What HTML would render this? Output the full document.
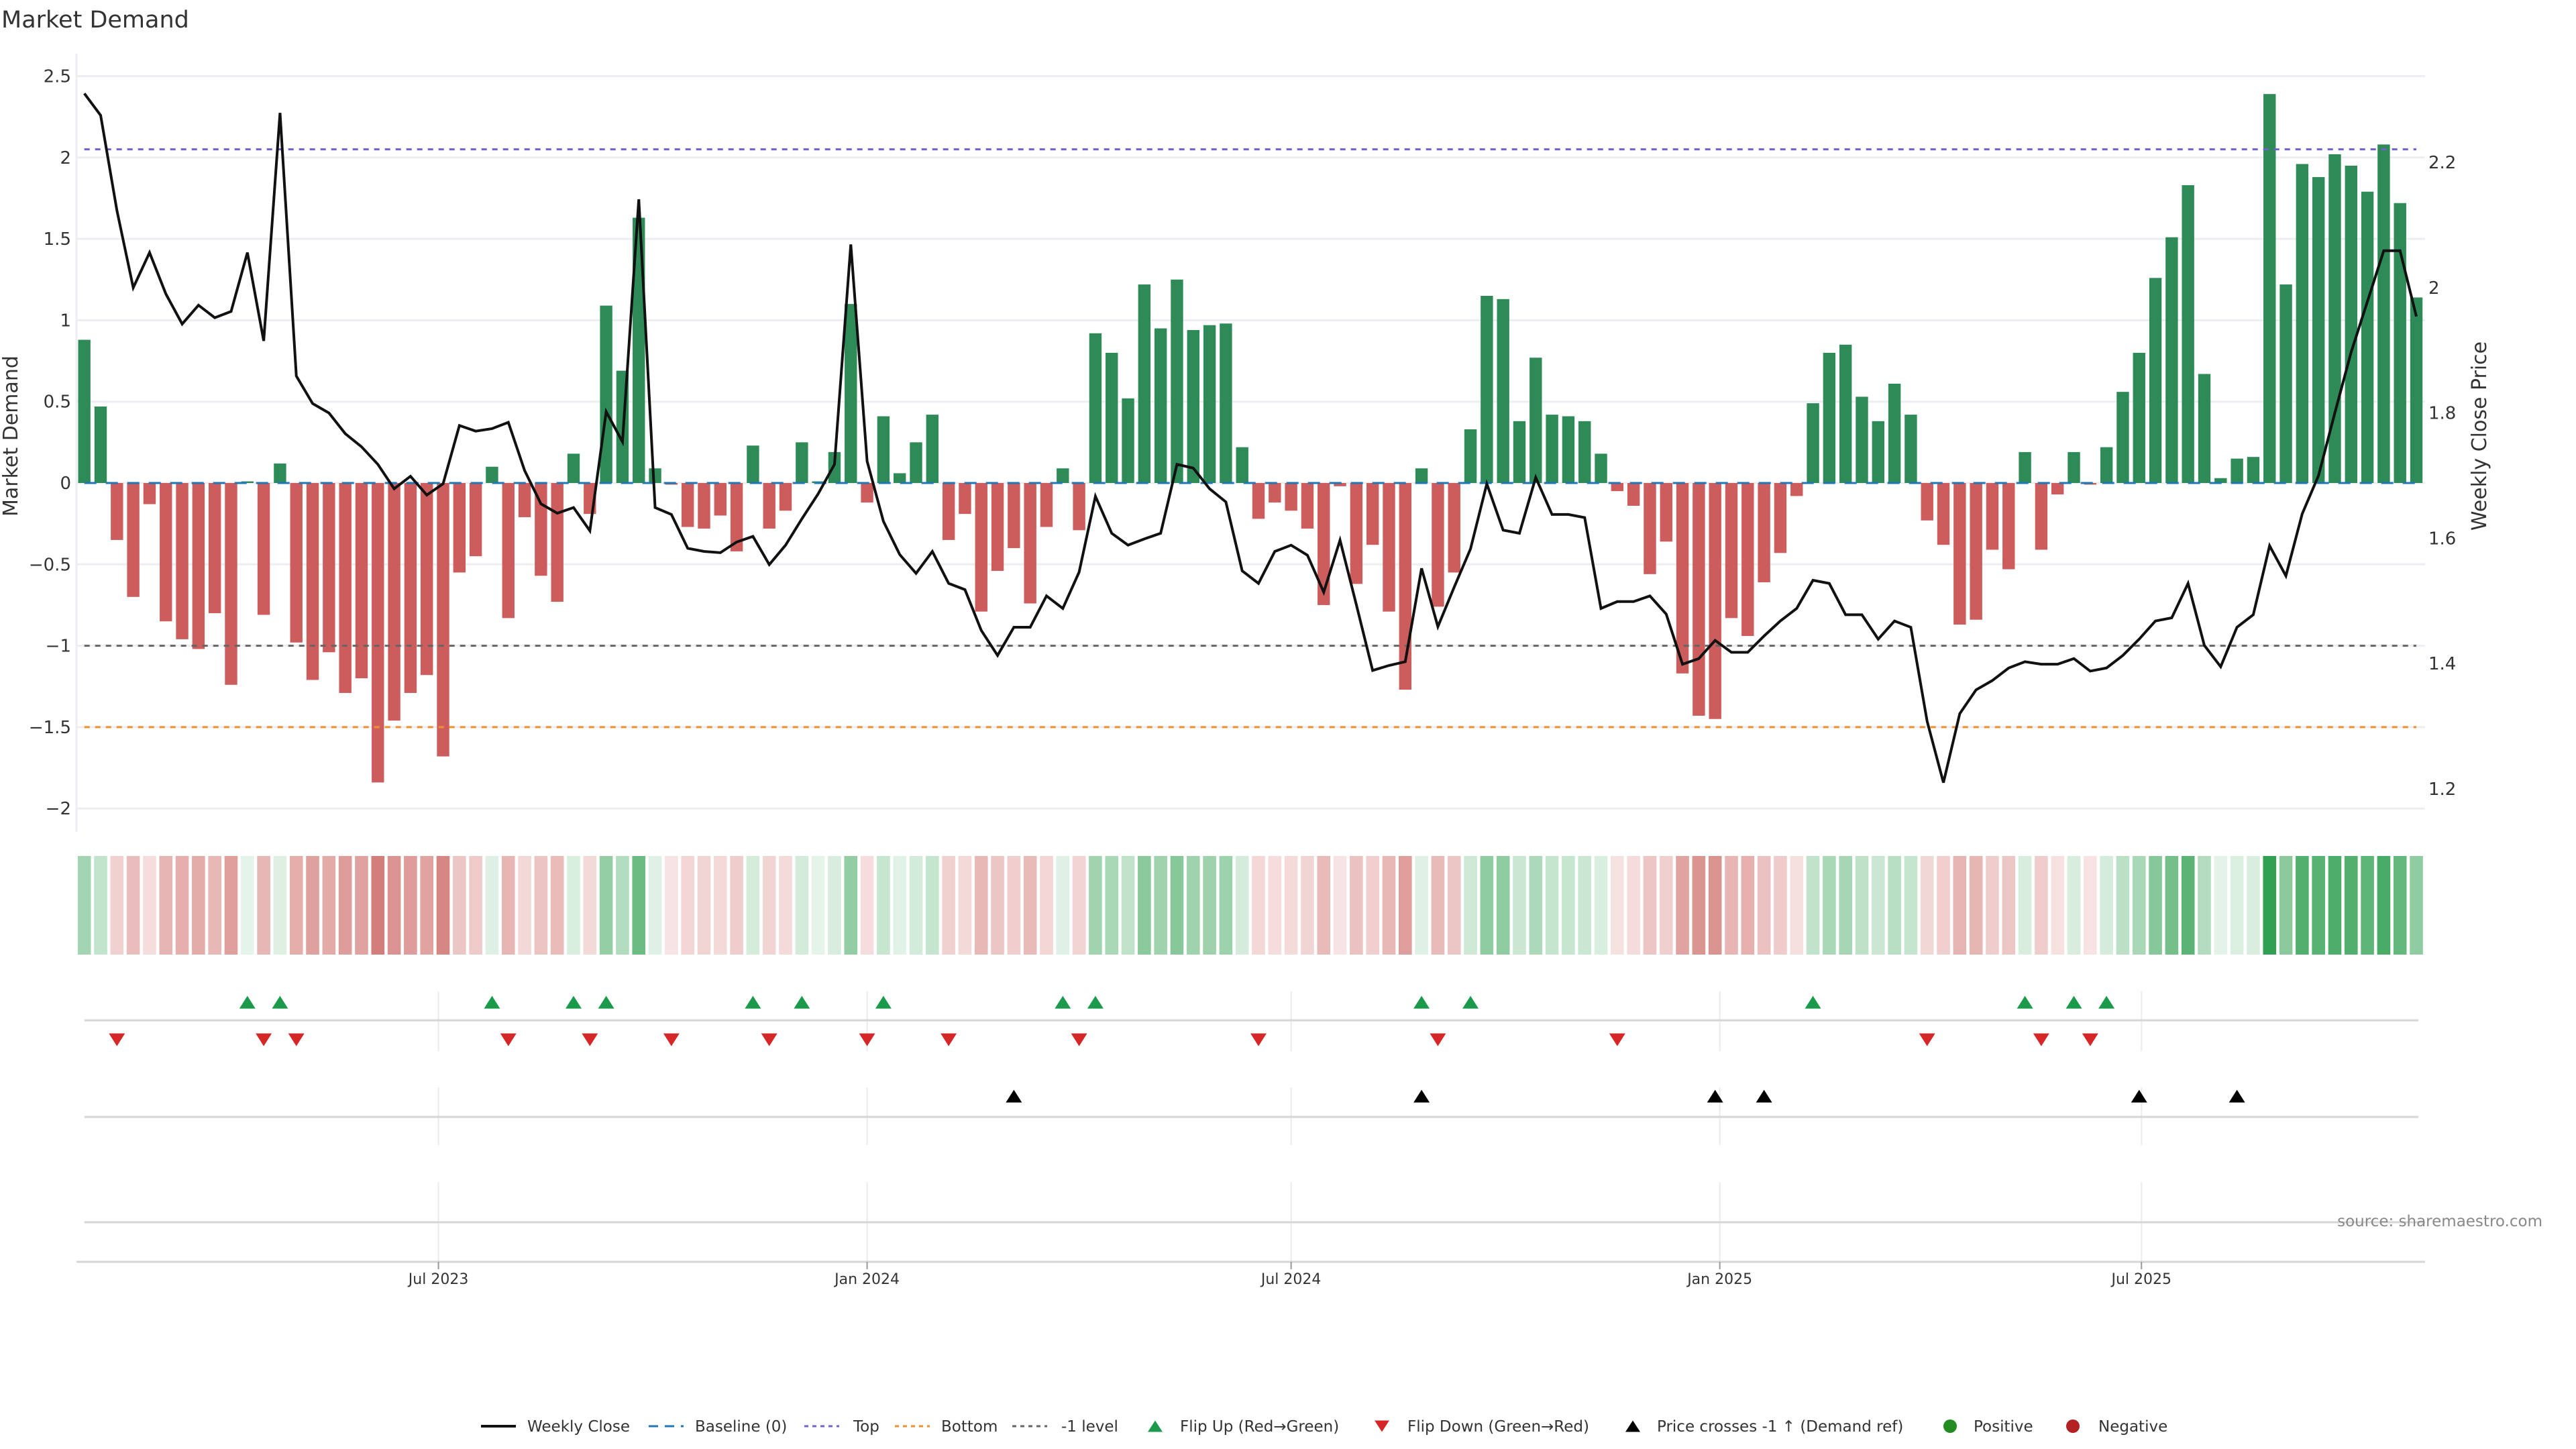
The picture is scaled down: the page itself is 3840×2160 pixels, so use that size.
<!DOCTYPE html>
<html><head><meta charset="utf-8"><title>Market Demand</title>
<style>
html,body{margin:0;padding:0;background:#fff;}
svg{display:block;font-family:"DejaVu Sans","Liberation Sans",sans-serif;}
</style></head>
<body>
<svg id="chart" width="3840" height="2160" viewBox="0 0 3840 2160" xmlns="http://www.w3.org/2000/svg">
<text x="2" y="41" font-size="35" fill="#333">Market Demand</text>
<g id="grid"></g><g id="heat"></g><g id="panels"></g><g id="bars"></g><g id="refs"></g><g id="line"></g><g id="axes"></g><g id="legend"></g>
<text x="3790" y="1828" font-size="23" fill="#888" text-anchor="end">source: sharemaestro.com</text>
</svg>
<script>
const startDate = "2023-01-30";
const demand = [0.88,0.47,-0.35,-0.70,-0.13,-0.85,-0.96,-1.02,-0.80,-1.24,
 0.01,-0.81,0.12,-0.98,-1.21,-1.04,-1.29,-1.20,-1.84,-1.46,
 -1.29,-1.18,-1.68,-0.55,-0.45,0.10,-0.83,-0.21,-0.57,-0.73,
 0.18,-0.19,1.09,0.69,1.63,0.09,-0.01,-0.27,-0.28,-0.20,
 -0.42,0.23,-0.28,-0.17,0.25,0.01,0.19,1.10,-0.12,0.41,
 0.06,0.25,0.42,-0.35,-0.19,-0.79,-0.54,-0.40,-0.74,-0.27,
 0.09,-0.29,0.92,0.80,0.52,1.22,0.95,1.25,0.94,0.97,
 0.98,0.22,-0.22,-0.12,-0.17,-0.28,-0.75,-0.02,-0.62,-0.38,
 -0.79,-1.27,0.09,-0.76,-0.55,0.33,1.15,1.13,0.38,0.77,
 0.42,0.41,0.38,0.18,-0.05,-0.14,-0.56,-0.36,-1.17,-1.43,
 -1.45,-0.83,-0.94,-0.61,-0.43,-0.08,0.49,0.80,0.85,0.53,
 0.38,0.61,0.42,-0.23,-0.38,-0.87,-0.84,-0.41,-0.53,0.19,
 -0.41,-0.07,0.19,-0.01,0.22,0.56,0.80,1.26,1.51,1.83,
 0.67,0.03,0.15,0.16,2.39,1.22,1.96,1.88,2.02,1.95,
 1.79,2.08,1.72,1.14];
const price = [2.31,2.275,2.123,2.0,2.056,1.99,1.942,1.972,1.952,1.962,
 2.056,1.915,2.279,1.859,1.815,1.80,1.767,1.746,1.718,1.679,
 1.699,1.669,1.687,1.78,1.771,1.775,1.785,1.708,1.655,1.64,
 1.649,1.612,1.802,1.754,2.141,1.649,1.638,1.584,1.579,1.577,
 1.594,1.603,1.558,1.589,1.631,1.671,1.718,2.069,1.723,1.627,
 1.574,1.544,1.579,1.528,1.518,1.453,1.413,1.458,1.458,1.508,
 1.488,1.546,1.667,1.608,1.589,1.599,1.608,1.718,1.712,1.679,
 1.658,1.548,1.528,1.579,1.589,1.573,1.514,1.597,1.494,1.389,
 1.397,1.403,1.552,1.459,1.522,1.583,1.687,1.613,1.608,1.697,
 1.638,1.638,1.633,1.488,1.499,1.499,1.508,1.479,1.399,1.408,
 1.437,1.418,1.418,1.444,1.468,1.488,1.533,1.528,1.478,1.478,
 1.439,1.468,1.458,1.308,1.21,1.32,1.358,1.373,1.393,1.403,
 1.399,1.399,1.408,1.388,1.393,1.413,1.439,1.468,1.473,1.528,
 1.429,1.395,1.458,1.478,1.588,1.54,1.639,1.70,1.80,1.897,
 1.978,2.059,2.059,1.954];
const leftTicks = [2.5,2,1.5,1,0.5,0,-0.5,-1,-1.5,-2];
const leftTickLabels = ["2.5","2","1.5","1","0.5","0","−0.5","−1","−1.5","−2"];
const rightTicks = [2.2,2,1.8,1.6,1.4,1.2];
const rightTickLabels = ["2.2","2","1.8","1.6","1.4","1.2"];
const xTickDates = ["2023-07-01","2024-01-01","2024-07-01","2025-01-01","2025-07-01"];
const xTickLabels = ["Jul 2023","Jan 2024","Jul 2024","Jan 2025","Jul 2025"];
const topLevel = 2.05, bottomLevel = -1.5, negLevel = -1;

const NS = "http://www.w3.org/2000/svg";
const X0 = 125.7, STEP = 24.31, PL = 114, PR = 3615;
const DAY = 86400000, d0 = Date.parse(startDate);
function xi(i){ return X0 + i*STEP; }
function xDate(s){ return X0 + (Date.parse(s)-d0)/(7*DAY)*STEP; }
function yD(v){ return 720 - v*242.6; }
function yP(p){ return 242 + (2.2-p)*934; }
function mk(tag, attrs, parent){ const e=document.createElementNS(NS,tag); for(const k in attrs) e.setAttribute(k,attrs[k]); if(parent) document.getElementById(parent).appendChild(e); return e; }
function mix(a,b,t){ return "rgb("+a.map((c,k)=>Math.round(c+(b[k]-c)*t)).join(",")+")"; }
const n = demand.length, xEnd = xi(n-1);
let el;

// gridlines
leftTicks.forEach((v,k)=>{
  el = mk("line",{x1:PL,x2:PR,y1:yD(v),y2:yD(v),stroke:"#eceef2","stroke-width":3},"grid");
  
  
  el = mk("text",{x:106,y:yD(v)+9,"font-size":26,fill:"#333","text-anchor":"end"},"axes");
  el.textContent = leftTickLabels[k];
  
  
});
rightTicks.forEach((p,k)=>{
  el = mk("text",{x:3620,y:yP(p)+9,"font-size":26,fill:"#333"},"axes");
  el.textContent = rightTickLabels[k];
  
  
});
el = mk("line",{x1:PL,x2:PL,y1:80,y2:1240,stroke:"#eceef2","stroke-width":3},"grid");


el = mk("text",{x:0,y:0,"font-size":30,fill:"#333","text-anchor":"middle",transform:"translate(26,650) rotate(-90)"},"axes");
el.textContent = "Market Demand";


el = mk("text",{x:0,y:0,"font-size":30,fill:"#333","text-anchor":"middle",transform:"translate(3706,650) rotate(-90)"},"axes");
el.textContent = "Weekly Close Price";



// bars + heatmap
const maxAbs = Math.max(...demand.map(Math.abs));
demand.forEach((v,i)=>{
  const y0 = yD(0), y1 = yD(v);
  el = mk("rect",{x:xi(i)-9.2,y:Math.min(y0,y1),width:18.4,height:Math.max(Math.abs(y1-y0),0.5),fill:v>=0?"#2e8b57":"#cd5c5c"},"bars");
  
  
  const t = Math.min(Math.abs(v)/maxAbs,1);
  const c = v>=0 ? mix([230,244,234],[49,160,82],t) : mix([247,228,228],[200,96,90],t);
  el = mk("rect",{x:xi(i)-9.8,y:1276,width:19.6,height:147,fill:c},"heat");
  
  
});

// reference lines
function refLine(v,color,dash,name){
  el = mk("line",{x1:X0,x2:xEnd,y1:yD(v),y2:yD(v),stroke:color,"stroke-width":3,"stroke-dasharray":dash},"refs");
  
  
}
refLine(0,"#1f77b4","18,14","baseline-line");
refLine(topLevel,"#7062cc","8,8","top-line");
refLine(bottomLevel,"#f28e2b","8,8","bottom-line");
refLine(negLevel,"#666","8,8","minus-one-line");

// price line
el = mk("polyline",{points:price.map((p,i)=>xi(i)+","+yP(p)).join(" "),fill:"none",stroke:"#111","stroke-width":4,"stroke-linejoin":"miter"},"line");



// panels
const panels = [[1478,1567,1521],[1621,1707,1665],[1762,1881,1822]];
panels.forEach((pn,k)=>{
  xTickDates.forEach(d=>{
    el = mk("line",{x1:xDate(d),x2:xDate(d),y1:pn[0],y2:pn[1],stroke:"#ebebeb","stroke-width":2},"panels");
    
    
  });
  el = mk("line",{x1:X0,x2:k==2?PR:3605,y1:pn[2],y2:pn[2],stroke:"#d6d6d6","stroke-width":3},"panels");
  
  
});
el = mk("line",{x1:PL,x2:PR,y1:1881,y2:1881,stroke:"#d6d6d6","stroke-width":3},"panels");


xTickDates.forEach((d,k)=>{
  el = mk("line",{x1:xDate(d),x2:xDate(d),y1:1881,y2:1892,stroke:"#999","stroke-width":2},"axes");
  
  
  el = mk("text",{x:xDate(d),y:1914,"font-size":22,fill:"#333","text-anchor":"middle"},"axes");
  el.textContent = xTickLabels[k];
  
  
});

function tri(x,y,up,color,name){
  const h=19,w=12;
  const pts = up ? [[x-w,y+h/2],[x+w,y+h/2],[x,y-h/2]] : [[x-w,y-h/2],[x+w,y-h/2],[x,y+h/2]];
  el = mk("polygon",{points:pts.map(p=>p.join(",")).join(" "),fill:color},"panels");
  
  
}
// flips
for(let i=1;i<n;i++){
  if(demand[i-1]<0 && demand[i]>=0) tri(xi(i),1494,true,"#1a9a4a","flip-up-marker");
  if(demand[i-1]>=0 && demand[i]<0) tri(xi(i),1550,false,"#d62728","flip-down-marker");
}
// price crosses -1 (demand ref)
const thr = 2.2 - (yD(negLevel)-242)/934;
for(let i=1;i<n;i++){
  if(price[i-1]<thr && price[i]>=thr) tri(xi(i),1634,true,"#000","price-cross-marker");
}

// legend
const LY = 2126;
function ltext(x,s){ el = mk("text",{x:x,y:LY+8,"font-size":23,fill:"#333"},"legend"); el.textContent=s;   }
function lline(x,color,dash,w){ el = mk("line",{x1:x,x2:x+52,y1:LY,y2:LY,stroke:color,"stroke-width":w,"stroke-dasharray":dash},"legend");   }
lline(717,"#111","none",4); ltext(786,"Weekly Close");
lline(967,"#1f77b4","14,10",3); ltext(1036,"Baseline (0)");
lline(1199,"#7062cc","6,6",3); ltext(1272,"Top");
lline(1334,"#f28e2b","6,6",3); ltext(1403,"Bottom");
lline(1509,"#666","6,6",3); ltext(1582,"-1 level");
function ltri(x,up,color){ const h=17,w=11; const pts = up?[[x-w,LY+h/2],[x+w,LY+h/2],[x,LY-h/2]]:[[x-w,LY-h/2],[x+w,LY-h/2],[x,LY+h/2]]; el = mk("polygon",{points:pts.map(p=>p.join(",")).join(" "),fill:color},"legend");   }
ltri(1722,true,"#1a9a4a"); ltext(1759,"Flip Up (Red→Green)");
ltri(2060,false,"#d62728"); ltext(2098,"Flip Down (Green→Red)");
ltri(2434,true,"#000"); ltext(2470,"Price crosses -1 ↑ (Demand ref)");
el = mk("circle",{cx:2907,cy:LY,r:10,fill:"#228b22"},"legend");  
ltext(2942,"Positive");
el = mk("circle",{cx:3090,cy:LY,r:10,fill:"#b22222"},"legend");  
ltext(3128,"Negative");
</script>
</body></html>
